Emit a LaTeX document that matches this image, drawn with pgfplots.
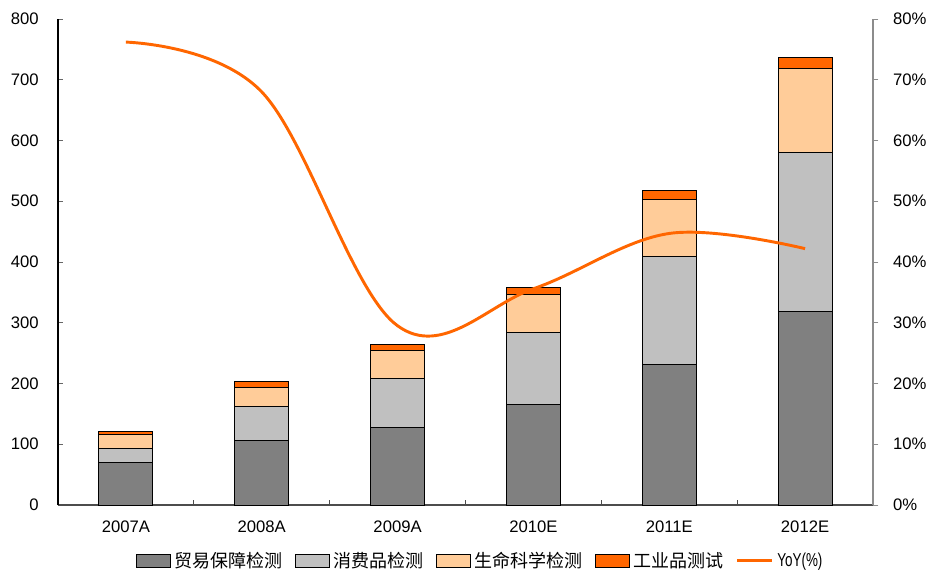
\documentclass[border=0pt]{standalone}
\usepackage{fontspec}
\setmainfont{Liberation Sans}
\newfontfamily\cjk{Noto Sans CJK SC}
\newfontfamily\narrow[FakeStretch=0.72]{Liberation Sans}
\usepackage{pgfplots}
\pgfplotsset{compat=1.18}
\definecolor{cA}{HTML}{808080}
\definecolor{cB}{HTML}{C0C0C0}
\definecolor{cC}{HTML}{FFCC99}
\definecolor{cD}{HTML}{FF6600}
\begin{document}
\begin{tikzpicture}
\path[use as bounding box] (-43.5pt,-50.25pt) rectangle (651pt,378.75pt);
\pgfplotsset{
  every axis/.append style={
    scale only axis, width=611.25pt, height=364.5pt,
    at={(0,0)}, anchor=south west,
    xmin=-0.5, xmax=5.5,
    /pgf/number format/assume math mode=true,
    tick label style={font=\fontsize{12.5}{14}\selectfont},
  }
}
\begin{axis}[
  ybar stacked, bar width=40.5pt,
  ymin=0, ymax=800, ytick={0,100,...,800},
  axis y line*=left, axis x line*=bottom,
  y axis line style={black, line width=0.8pt},
  x axis line style={black!70, line width=0.8pt},
  ytick align=inside, major tick length=4pt,
  ytick style={black!60, line width=0.6pt},
  yticklabel style={xshift=-11pt},
  xtick={0,...,5},
  xticklabels={2007A,2008A,2009A,2010E,2011E,2012E},
  major x tick style={draw=none},
  minor xtick={0.5,1.5,2.5,3.5,4.5},
  minor x tick style={black!70, line width=0.6pt},
  minor tick length=4pt, xtick align=inside,
  xticklabel style={yshift=-8.3pt},
  legend style={at={(0.519,-0.115)}, anchor=center, draw=none, fill=none,
    legend columns=-1, font=\fontsize{13.5}{15}\selectfont\cjk,
    inner sep=0pt,
    nodes={inner xsep=3pt},
    /tikz/every even column/.append style={column sep=6pt}},
  legend cell align=left,
  legend image code/.code={\draw[#1, line width=0.8pt] (0pt,-4.9pt) rectangle (25.5pt,4.9pt);},
]
\addplot[fill=cA, draw=black, line width=0.7pt] coordinates {(0,70) (1,106) (2,127) (3,165) (4,232) (5,319)};
\addplot[fill=cB, draw=black, line width=0.7pt] coordinates {(0,23.5) (1,55.5) (2,81) (3,119.5) (4,177) (5,262)};
\addplot[fill=cC, draw=black, line width=0.7pt] coordinates {(0,22.5) (1,32.5) (2,46) (3,62.5) (4,94.5) (5,137)};
\addplot[fill=cD, draw=black, line width=0.7pt] coordinates {(0,5) (1,10) (2,10) (3,11) (4,15) (5,19)};
\addlegendentry{贸易保障检测}
\addlegendentry{消费品检测}
\addlegendentry{生命科学检测}
\addlegendentry{工业品测试}
\addlegendimage{legend image code/.code={\draw[cD, line width=2.2pt] (0pt,0pt) -- (26pt,0pt);}}
\addlegendentry{\narrow\fontsize{14}{15}\selectfont YoY(\%)}
\end{axis}
\begin{axis}[
  ymin=0, ymax=80, ytick={0,10,...,80},
  axis y line*=right, axis x line=none,
  y axis line style={black!45, line width=1pt},
  ytick style={black!45, line width=0.6pt},
  ytick align=outside, major tick length=4pt,
  yticklabel={\pgfmathprintnumber{\tick}\%},
  yticklabel style={xshift=7.5pt},
]
\addplot[cD, line width=2.2pt, smooth, tension=0.6] coordinates {(0,76.2) (1,68) (2,29.5) (3,35.6) (4,44.7) (5,42.2)};
\end{axis}
\end{tikzpicture}
\end{document}
